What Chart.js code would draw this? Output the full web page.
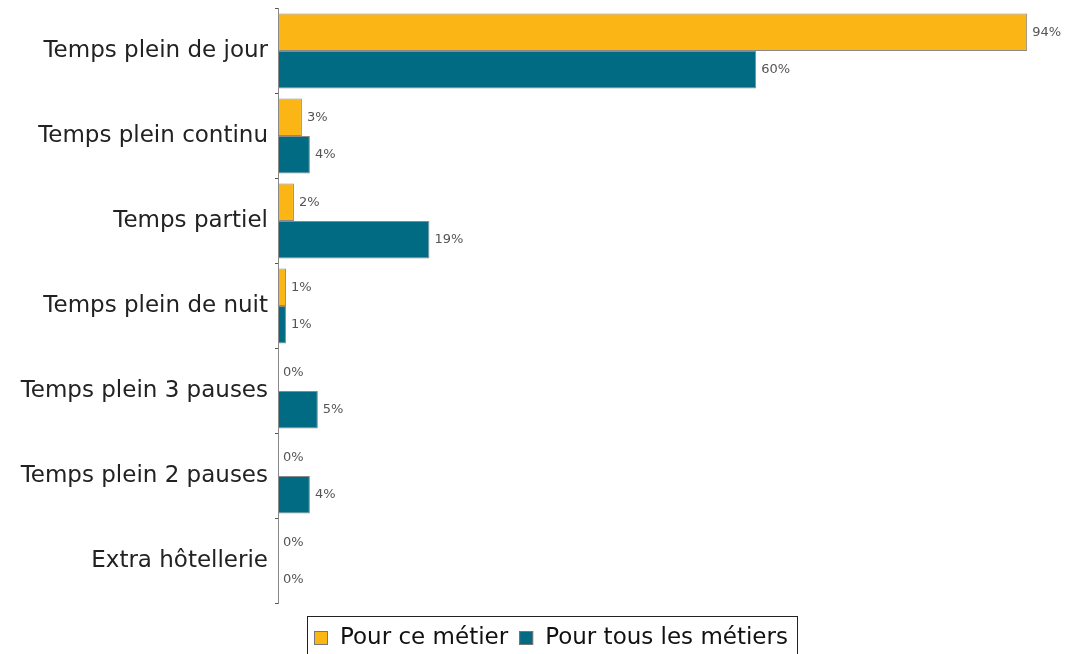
<!DOCTYPE html>
<html>
<head>
<meta charset="utf-8">
<script src="https://cdn.jsdelivr.net/npm/chart.js@4.4.0/dist/chart.umd.min.js"></script>
<style>
  html, body { margin: 0; padding: 0; background: #fff; }
  #wrap { width: 1065px; height: 654px; position: relative; }
</style>
</head>
<body>
<div id="wrap"><canvas id="chart"></canvas></div>
<script>
const categories = [
    'Temps plein de jour',
    'Temps plein continu',
    'Temps partiel',
    'Temps plein de nuit',
    'Temps plein 3 pauses',
    'Temps plein 2 pauses',
    'Extra hôtellerie'
];
const ceMetier = [94, 3, 2, 1, 0, 0, 0];
const tousMetiers = [60, 4, 19, 1, 5, 4, 0];
const seriesNames = ['Pour ce métier', 'Pour tous les métiers'];

const FONT = 'DejaVu Sans, sans-serif';

// valeurs au bout des barres
const valueLabels = {
    id: 'valueLabels',
    afterDatasetsDraw(chart) {
        const ctx = chart.ctx;
        ctx.save();
        ctx.font = '13px ' + FONT;
        ctx.fillStyle = '#555';
        ctx.textBaseline = 'middle';
        ctx.textAlign = 'left';
        chart.data.datasets.forEach((ds, i) => {
            chart.getDatasetMeta(i).data.forEach((bar, j) => {
                ctx.fillText(ds.data[j] + '%', bar.x + 5, bar.y);
            });
        });
        ctx.restore();
    }
};

// légende encadrée sous le graphique
const boxedLegend = {
    id: 'boxedLegend',
    afterDraw(chart) {
        const ctx = chart.ctx;
        const startX = 314;
        const midY = 638;
        ctx.save();
        ctx.font = '23px ' + FONT;
        ctx.textBaseline = 'middle';
        ctx.textAlign = 'left';
        let x = startX;
        let lastEnd = x;
        chart.data.datasets.forEach(ds => {
            ctx.fillStyle = ds.backgroundColor;
            ctx.fillRect(x, midY - 7, 14, 14);
            ctx.strokeStyle = '#777';
            ctx.lineWidth = 1;
            ctx.strokeRect(x + 0.5, midY - 6.5, 13, 13);
            ctx.fillStyle = '#111';
            ctx.fillText(ds.label, x + 26, midY);
            lastEnd = x + 26 + ctx.measureText(ds.label).width;
            x = lastEnd + 11;
        });
        ctx.strokeStyle = '#222';
        ctx.strokeRect(startX - 6.5, 616.5, Math.round(lastEnd - startX + 16), 60);
        ctx.restore();
    }
};

new Chart(document.getElementById('chart'), {
    type: 'bar',
    data: {
        labels: categories,
        datasets: [
            {
                label: seriesNames[0],
                data: ceMetier,
                backgroundColor: '#FBB615',
                borderColor: '#8a8a8a',
                borderWidth: 1,
                borderSkipped: false
            },
            {
                label: seriesNames[1],
                data: tousMetiers,
                backgroundColor: '#006B82',
                borderColor: '#8a8a8a',
                borderWidth: 1,
                borderSkipped: false
            }
        ]
    },
    options: {
        indexAxis: 'y',
        responsive: true,
        maintainAspectRatio: false,
        animation: false,
        layout: { padding: { top: 8.5, right: 2, bottom: 50.5, left: 0 } },
        datasets: {
            bar: { categoryPercentage: 0.88, barPercentage: 1.0 }
        },
        plugins: {
            legend: { display: false },
            tooltip: { enabled: false }
        },
        scales: {
            x: {
                display: false,
                min: 0,
                max: 98.5
            },
            y: {
                afterFit(scale) {
                    scale.width = 278;
                    scale.paddingTop = 0;
                    scale.paddingBottom = 0;
                },
                grid: {
                    drawOnChartArea: false,
                    tickLength: 3,
                    color: '#555'
                },
                border: { color: '#888', width: 1 },
                ticks: {
                    font: { family: FONT, size: 23 },
                    color: '#222',
                    padding: 7
                }
            }
        }
    },
    plugins: [valueLabels, boxedLegend]
});
</script>
</body>
</html>
